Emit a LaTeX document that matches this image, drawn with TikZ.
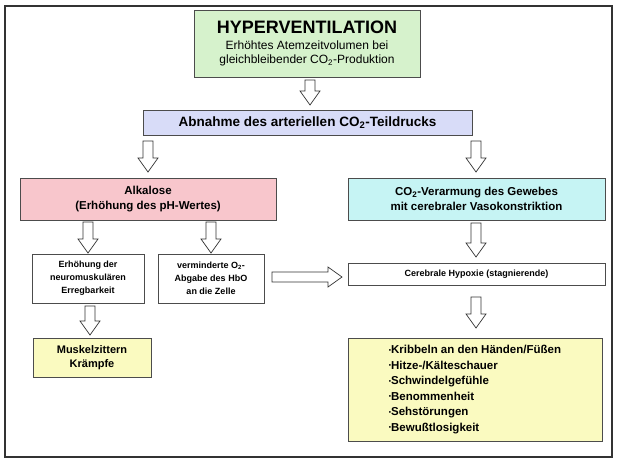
\documentclass[tikz,border=0pt]{standalone}
\usepackage{fontspec}
\setmainfont{Liberation Sans}
\definecolor{cgreen}{HTML}{D6F2CC}
\definecolor{cblue}{HTML}{D8DCF8}
\definecolor{cpink}{HTML}{F8C6CC}
\definecolor{ccyan}{HTML}{C6F4F4}
\definecolor{cyel}{HTML}{FAFAC0}
\newcommand{\mybul}{\raisebox{.25ex}{\scalebox{.55}{\textbullet}}}
\begin{document}
\begin{tikzpicture}[x=1pt,y=-1pt,
  box/.style={draw=black!70,line width=0.8pt,align=center,inner sep=0pt,font=\bfseries},
  pics/barr/.style={code={\draw[draw=black!80,fill=white,line width=0.7pt]
     (0,-5) -- (#1-14,-5) -- (#1-14,-10) -- (#1,0) -- (#1-14,10) -- (#1-14,5) -- (0,5) -- cycle;}}]
\useasboundingbox (0,0) rectangle (617,464);
\draw[line width=1.2pt,black!80] (5,6) rectangle (612,457);
\node[box,fill=cgreen,minimum width=226pt,minimum height=67pt,font=\mdseries\fontsize{12}{14.5}\selectfont] (hyp) at (307,43.5)
  {\textbf{\fontsize{18}{20}\selectfont HYPERVENTILATION}\\[1pt]
   Erhöhtes Atemzeitvolumen bei\\gleichbleibender CO\textsubscript{2}-Produktion};
\node[box,fill=cblue,minimum width=329pt,minimum height=25pt,font=\bfseries\fontsize{13.5}{15}\selectfont] (abn) at (307.5,122.5) {Abnahme des arteriellen CO\textsubscript{2}-Teildrucks};
\node[box,fill=cpink,minimum width=256pt,minimum height=42pt,font=\bfseries\fontsize{11.5}{15}\selectfont] (alk) at (148,199) {Alkalose\\(Erhöhung des pH-Wertes)};
\node[box,fill=ccyan,minimum width=257pt,minimum height=42pt,font=\bfseries\fontsize{11.5}{15}\selectfont] (co2) at (476.5,199) {CO\textsubscript{2}-Verarmung des Gewebes\\mit cerebraler Vasokonstriktion};
\node[box,fill=white,minimum width=112pt,minimum height=49pt,font=\bfseries\fontsize{9}{13}\selectfont] (erh) at (88,278.5) {Erhöhung der\\neuromuskulären\\Erregbarkeit};
\node[box,fill=white,minimum width=106pt,minimum height=49pt,font=\bfseries\fontsize{9}{13}\selectfont] (ver) at (211,278.5) {verminderte O\textsubscript{2}-\\Abgabe des HbO\\an die Zelle};
\node[box,fill=white,minimum width=257pt,minimum height=22pt,font=\bfseries\fontsize{9}{11}\selectfont] (cer) at (476.5,274) {Cerebrale Hypoxie (stagnierende)};
\node[box,fill=cyel,minimum width=118pt,minimum height=39pt,font=\bfseries\fontsize{11}{14}\selectfont] (mus) at (92,357.5) {Muskelzittern\\Krämpfe};
\node[box,fill=cyel,minimum width=254pt,minimum height=103pt,align=left,font=\bfseries\fontsize{11.5}{15.5}\selectfont] (lst) at (475,389.5)
  {\mybul Kribbeln an den Händen/Füßen\\\mybul Hitze-/Kälteschauer\\\mybul Schwindelgefühle\\\mybul Benommenheit\\\mybul Sehstörungen\\\mybul Bewußtlosigkeit};
\pic[rotate=-90] at (310,80) {barr=25};
\pic[rotate=-90] at (148,141) {barr=31};
\pic[rotate=-90] at (476,141) {barr=31};
\pic[rotate=-90] at (88,222) {barr=31};
\pic[rotate=-90] at (211,222) {barr=31};
\pic[rotate=-90] at (476,223) {barr=34};
\pic[rotate=-90] at (90,306) {barr=29};
\pic[rotate=-90] at (476,297) {barr=31};
\pic at (272,277) {barr=70};
\end{tikzpicture}
\end{document}
